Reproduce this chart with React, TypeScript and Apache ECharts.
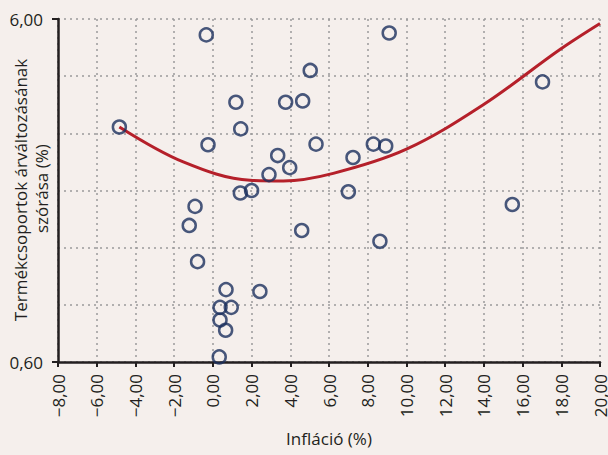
import React, { useEffect, useRef } from "react";
import * as echarts from "echarts";

// Scatter points: [inflation %, dispersion %]
const inflation = [
  -4.83, -0.34, 1.19, 1.44, -0.25, 3.76, 4.64, 5.03, 5.33, 3.35, 3.97, 2.9, 1.42,
  2.0, -0.92, -1.22, 4.59, -0.79, 0.68, 2.43, 0.37, 0.95, 0.37, 0.66, 0.33, 9.11,
  8.29, 8.93, 7.24, 7.0, 8.63, 15.47, 17.03,
];
const dispersion = [
  4.3, 5.75, 4.69, 4.27, 4.02, 4.69, 4.71, 5.19, 4.03, 3.85, 3.66, 3.55, 3.26,
  3.3, 3.05, 2.75, 2.67, 2.18, 1.74, 1.71, 1.46, 1.46, 1.26, 1.1, 0.68, 5.78,
  4.03, 4.0, 3.82, 3.28, 2.5, 3.08, 5.01,
];

// Trend line
const trendX = [-4.83, -1.53, 1.92, 3.64, 6.22, 10.0, 13.97, 17.93, 20.0];
const trendY = [4.3, 3.75, 3.46, 3.45, 3.57, 3.95, 4.65, 5.52, 5.93];

const xMin = -8;
const xMax = 20;
const xStep = 2;
const yMin = 0.6;
const yMax = 6.0;
const yGridStep = 0.9;

const xTitle = "Infláció (%)";
const yTitleLines = ["Termékcsoportok árváltozásának", "szórása (%)"];

const FONT = "Open Sans";
const TEXT = "#231f20";
const FS = 17;

const fmt = (v: number) => {
  const s = Math.abs(v).toFixed(2).replace(".", ",");
  return v < 0 ? "\u2212" + s : s;
};

export default function App() {
  const ref = useRef<HTMLDivElement>(null);
  useEffect(() => {
    if (!ref.current) return;
    const chart = echarts.init(ref.current, null, { renderer: "svg" });
    const span = yMax - yMin;
    const grid = { color: "#9a9a9a", type: [2, 4], width: 1.5 };
    chart.setOption({
      animation: false,
      backgroundColor: "#f5efec",
      textStyle: { fontFamily: FONT, color: TEXT },
      grid: { left: 58, right: 8, top: 19, bottom: 93, containLabel: false, outerBoundsMode: "none" },
      graphic: [
        {
          type: "text",
          x: 20,
          y: 190,
          rotation: Math.PI / 2,
          style: {
            text: yTitleLines[0],
            fill: TEXT,
            fontFamily: FONT,
            fontSize: FS,
            textAlign: "center",
            textVerticalAlign: "middle",
          },
        },
        {
          type: "text",
          x: 41,
          y: 233,
          rotation: Math.PI / 2,
          style: {
            text: yTitleLines[1],
            fill: TEXT,
            fontFamily: FONT,
            fontSize: FS,
            textAlign: "left",
            textVerticalAlign: "middle",
          },
        },
      ],
      xAxis: {
        type: "value",
        min: xMin,
        max: xMax,
        interval: xStep,
        name: xTitle,
        nameLocation: "middle",
        nameGap: 68,
        nameMoveOverlap: false,
        nameTextStyle: { fontFamily: FONT, fontSize: FS, color: TEXT, verticalAlign: "top" },
        axisLine: { show: true, onZero: false, lineStyle: { color: TEXT, width: 2.5 } },
        axisTick: { show: true, length: 5, lineStyle: { color: TEXT, width: 2 } },
        axisLabel: {
          rotate: 90,
          margin: 12,
          fontFamily: FONT,
          fontSize: FS,
          color: TEXT,
          formatter: (v: number) => fmt(v),
        },
        splitLine: { show: true, lineStyle: grid },
      },
      yAxis: [
        {
          type: "value",
          position: "left",
          min: yMin,
          max: yMax,
          show: false,
          splitLine: { show: false },
        },
        {
          type: "value",
          position: "left",
          offset: 0,
          min: 0,
          max: span,
          interval: yGridStep,
          axisLine: { show: true, onZero: false, lineStyle: { color: TEXT, width: 2.5 } },
          axisTick: { show: false },
          axisLabel: { show: false },
          splitLine: { show: true, lineStyle: grid },
        },
        {
          type: "value",
          position: "left",
          offset: 0,
          min: 0,
          max: span,
          interval: span,
          axisLine: { show: false, onZero: false },
          axisTick: { show: true, length: 6, lineStyle: { color: TEXT, width: 2 } },
          axisLabel: {
            margin: 15,
            fontFamily: FONT,
            fontSize: FS,
            color: TEXT,
            formatter: (v: number) => fmt(v + yMin),
          },
          splitLine: { show: false },
        },
      ],
      series: [
        {
          type: "line",
          yAxisIndex: 0,
          data: trendX.map((x, i) => [x, trendY[i]]),
          smooth: 0.35,
          symbol: "none",
          lineStyle: { color: "#b5202a", width: 3 },
          z: 2,
        },
        {
          type: "scatter",
          yAxisIndex: 0,
          data: inflation.map((x, i) => [x, dispersion[i]]),
          symbol: "circle",
          symbolSize: 13,
          itemStyle: { color: "rgba(0,0,0,0)", borderColor: "#1b2f5e", borderWidth: 2.5 },
          z: 3,
        },
      ],
    });
    return () => chart.dispose();
  }, []);
  return <div ref={ref} style={{ width: 608, height: 455, position: "absolute", left: 0, top: 0 }} />;
}
